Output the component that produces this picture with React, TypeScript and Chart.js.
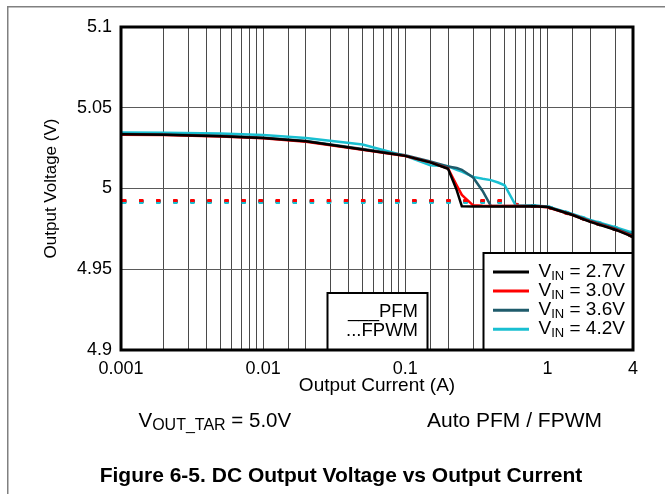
import React, { useEffect, useRef } from 'react';
import { Chart, registerables } from 'chart.js';

Chart.register(...registerables);

const FONT = "'Liberation Sans', Arial, Helvetica, sans-serif";

// ---- data ----
const currentA = [0.001, 0.002, 0.005, 0.01, 0.02, 0.05, 0.1, 0.15, 0.2, 0.23, 0.25, 0.3, 0.35, 0.4, 0.45, 0.5, 0.6, 0.8, 1, 1.5, 2, 3, 4];

const pfmVin27 = [5.0336, 5.0333, 5.0324, 5.0313, 5.0292, 5.0242, 5.0202, 5.0162, 5.0122, 4.999, 4.989, 4.9888, 4.9888, 4.9888, 4.9888, 4.9888, 4.9888, 4.989, 4.9885, 4.9836, 4.9793, 4.9745, 4.97];
const pfmVin30 = [5.0333, 5.0331, 5.0322, 5.0311, 5.029, 5.024, 5.0201, 5.0162, 5.0124, 5.002, 4.996, 4.9896, 4.9893, 4.9892, 4.9892, 4.9892, 4.9892, 4.989, 4.9884, 4.9836, 4.9795, 4.9747, 4.9703];
const pfmVin36 = [5.0338, 5.0335, 5.0326, 5.0315, 5.0294, 5.0245, 5.0206, 5.0168, 5.0136, 5.0127, 5.0116, 5.0068, 4.9985, 4.9892, 4.9892, 4.9892, 4.9892, 4.9893, 4.9887, 4.984, 4.98, 4.9752, 4.9712];
const pfmVin42 = [5.0346, 5.0345, 5.0341, 5.0332, 5.0313, 5.0272, 5.0202, 5.0144, 5.0138, 5.0115, 5.0105, 5.0072, 5.006, 5.0052, 5.0037, 5.002, 4.9893, 4.9894, 4.9889, 4.9843, 4.9805, 4.976, 4.9725];

const fpwmCurrentA = [0.001, 0.01, 0.1, 0.3, 0.5, 0.6, 0.8, 1, 1.5, 2, 3, 4];
const fpwmVin27 = [4.9921, 4.9921, 4.9921, 4.9921, 4.992, 4.99, 4.989, 4.9885, 4.9836, 4.9793, 4.9745, 4.97];
const fpwmVin30 = [4.9926, 4.9926, 4.9926, 4.9926, 4.9925, 4.9902, 4.989, 4.9884, 4.9836, 4.9795, 4.9747, 4.9703];
const fpwmVin36 = [4.9919, 4.9919, 4.9919, 4.9919, 4.9918, 4.99, 4.9893, 4.9887, 4.984, 4.98, 4.9752, 4.9712];
const fpwmVin42 = [4.9914, 4.9914, 4.9914, 4.9914, 4.9913, 4.9898, 4.9894, 4.9889, 4.9843, 4.9805, 4.976, 4.9725];

const vinLabels = ['2.7V', '3.0V', '3.6V', '4.2V'];
const seriesColors = ['#000000', '#ff0000', '#1f5b6b', '#19bfd1'];
// drawing order of the dotted (FPWM) traces: lower = drawn on top
const fpwmOrder = [7, 4, 6, 5];

const xTickValues = [0.001, 0.01, 0.1, 1, 4];
const xTickLabels = ['0.001', '0.01', '0.1', '1', '4'];
const yTickValues = [4.9, 4.95, 5, 5.05, 5.1];
const yTickLabels = ['4.9', '4.95', '5', '5.05', '5.1'];

const pfmSeries = [pfmVin27, pfmVin30, pfmVin36, pfmVin42];
const fpwmSeries = [fpwmVin27, fpwmVin30, fpwmVin36, fpwmVin42];

function toPoints(xs: number[], ys: number[]) {
  return xs.map((x, i) => ({ x, y: ys[i] }));
}

function drawSubText(
  ctx: CanvasRenderingContext2D,
  x: number,
  y: number,
  main: string,
  sub: string,
  rest: string,
  size: number,
  subSize: number,
  dy: number
) {
  ctx.textAlign = 'left';
  ctx.textBaseline = 'alphabetic';
  ctx.font = `${size}px ${FONT}`;
  ctx.fillText(main, x, y);
  let cx = x + ctx.measureText(main).width;
  ctx.font = `${subSize}px ${FONT}`;
  ctx.fillText(sub, cx, y + dy);
  cx += ctx.measureText(sub).width;
  ctx.font = `${size}px ${FONT}`;
  ctx.fillText(rest, cx, y);
}

const annotations = {
  id: 'annotations',
  beforeDraw(chart: any) {
    const ctx = chart.ctx;
    ctx.save();
    ctx.fillStyle = '#ffffff';
    ctx.fillRect(0, 0, chart.width, chart.height);
    ctx.restore();
  },
  afterDraw(chart: any) {
    const ctx: CanvasRenderingContext2D = chart.ctx;
    const ca = chart.chartArea;
    ctx.save();

    // page frame lines
    ctx.fillStyle = '#808080';
    ctx.fillRect(7, 6, chart.width - 7, 1.5);
    ctx.fillRect(7, 6, 1.5, chart.height - 6);

    // PFM / FPWM box
    const bx = 327.5, by = 293, bw = 100, bh = ca.bottom - 293;
    ctx.fillStyle = '#ffffff';
    ctx.fillRect(bx, by, bw, bh);
    ctx.strokeStyle = '#000000';
    ctx.lineWidth = 2;
    ctx.strokeRect(bx, by, bw, bh);
    ctx.fillStyle = '#000000';
    ctx.font = `18.5px ${FONT}`;
    ctx.textAlign = 'right';
    ctx.textBaseline = 'alphabetic';
    ctx.fillText('___PFM', 418, 317);
    ctx.fillText('...FPWM', 418, 336);

    // legend box
    const lx = 483.5, ly = 253;
    const lw = ca.right - lx, lh = ca.bottom - ly;
    ctx.fillStyle = '#ffffff';
    ctx.fillRect(lx, ly, lw, lh);
    ctx.strokeStyle = '#000000';
    ctx.lineWidth = 2;
    ctx.strokeRect(lx, ly, lw, lh);
    for (let i = 0; i < 4; i++) {
      const ds = chart.data.datasets[i];
      const yy = 272 + i * 19.1;
      ctx.strokeStyle = ds.borderColor;
      ctx.lineWidth = 3;
      ctx.beginPath();
      ctx.moveTo(493, yy);
      ctx.lineTo(529, yy);
      ctx.stroke();
      ctx.fillStyle = '#000000';
      drawSubText(ctx, 538.5, yy + 5, 'V', 'IN', ' = ' + ds.label, 19, 13, 3);
    }

    // bottom annotations
    ctx.fillStyle = '#000000';
    drawSubText(ctx, 138.5, 427, 'V', 'OUT_TAR', ' = 5.0V', 20.5, 16, 3);
    ctx.font = `21px ${FONT}`;
    ctx.textAlign = 'left';
    ctx.fillText('Auto PFM / FPWM', 427, 427);
    ctx.font = `bold 21px ${FONT}`;
    ctx.textAlign = 'center';
    ctx.fillText('Figure 6-5. DC Output Voltage vs Output Current', 341, 482);

    // plot frame
    ctx.strokeStyle = '#000000';
    ctx.lineWidth = 3;
    ctx.strokeRect(ca.left, ca.top, ca.right - ca.left, ca.bottom - ca.top);
    ctx.restore();
  },
};

export default function App() {
  const canvasRef = useRef<HTMLCanvasElement | null>(null);

  useEffect(() => {
    const canvas = canvasRef.current;
    if (!canvas) return;
    Chart.defaults.font.family = FONT;
    Chart.defaults.color = '#000000';

    const pfmDatasets = pfmSeries.map((ys, i) => ({
      label: vinLabels[i],
      data: toPoints(currentA, ys),
      borderColor: seriesColors[i],
      backgroundColor: seriesColors[i],
      borderWidth: 2.5,
      pointRadius: 0,
      tension: 0,
      fill: false,
      order: i,
    }));
    const fpwmDatasets = fpwmSeries.map((ys, i) => ({
      label: 'FPWM ' + vinLabels[i],
      data: toPoints(fpwmCurrentA, ys),
      borderColor: seriesColors[i],
      backgroundColor: seriesColors[i],
      borderWidth: 3,
      borderDash: [4.3, 12.77],
      borderDashOffset: -1,
      borderCapStyle: 'butt',
      pointRadius: 0,
      tension: 0,
      fill: false,
      order: fpwmOrder[i],
    }));

    const chart = new Chart(canvas, {
      type: 'line',
      data: { datasets: [...pfmDatasets, ...fpwmDatasets] as any },
      options: {
        animation: false,
        responsive: false,
        devicePixelRatio: 1,
        events: [],
        layout: { padding: { left: 0, top: 27, right: 32, bottom: 0 } },
        plugins: {
          legend: { display: false },
          tooltip: { enabled: false },
        },
        scales: {
          x: {
            type: 'logarithmic',
            position: 'bottom',
            min: 0.001,
            max: 4,
            afterFit: (s: any) => {
              s.height = 144;
            },
            border: { display: false },
            grid: { color: '#4a4a4a', lineWidth: 1, drawTicks: false },
            ticks: {
              autoSkip: false,
              maxRotation: 0,
              minRotation: 0,
              padding: 8,
              font: { size: 18, family: FONT },
              color: '#000000',
              callback: (value: any) => {
                const v = Number(value);
                const idx = xTickValues.findIndex((t) => Math.abs(t - v) / t < 1e-6);
                return idx >= 0 ? xTickLabels[idx] : '';
              },
            },
            title: {
              display: true,
              text: 'Output Current (A)',
              color: '#000000',
              font: { size: 19, family: FONT },
              padding: { top: 0, bottom: 97 },
            },
          },
          y: {
            type: 'linear',
            min: 4.9,
            max: 5.1,
            afterFit: (s: any) => {
              s.width = 121;
            },
            afterBuildTicks: (s: any) => {
              s.ticks = yTickValues.map((v) => ({ value: v }));
            },
            border: { display: false },
            grid: { color: '#5a5a5a', lineWidth: 1, drawTicks: false },
            ticks: {
              padding: 9,
              font: { size: 18, family: FONT },
              color: '#000000',
              callback: (_value: any, index: number) => yTickLabels[index],
            },
            title: {
              display: true,
              text: 'Output Voltage (V)',
              color: '#000000',
              font: { size: 17, family: FONT },
              padding: { top: 40.8, bottom: 0 },
            },
          },
        },
      } as any,
      plugins: [annotations as any],
    });

    return () => {
      chart.destroy();
    };
  }, []);

  return (
    <div style={{ position: 'absolute', left: 0, top: 0, width: 665, height: 494 }}>
      <canvas ref={canvasRef} width={665} height={494} style={{ width: 665, height: 494, display: 'block' }} />
    </div>
  );
}
